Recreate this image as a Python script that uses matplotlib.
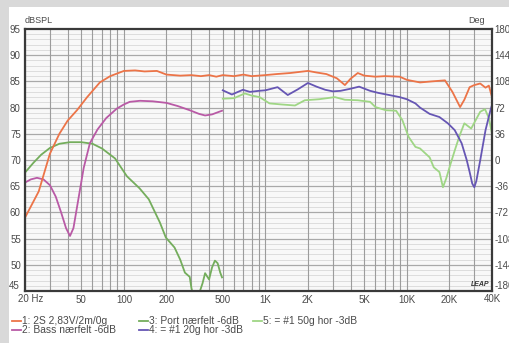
import matplotlib
matplotlib.use("Agg")
import matplotlib.pyplot as plt
from matplotlib.patches import Rectangle
from matplotlib.lines import Line2D

plt.rcParams['font.family'] = ['Liberation Sans', 'DejaVu Sans']

# ---- data ----
f1 = [20, 25, 30, 35, 40, 46.6, 55, 67.6, 80, 100, 120, 140, 171, 200, 250, 300, 350, 400, 450, 500,
      600, 700, 800, 1000, 1200, 1500, 2000, 2300, 2700, 3200, 3650, 4000, 4500, 5000, 6000, 7000,
      8900, 10000, 12400, 15000, 18600, 21000, 23800, 25500, 27800, 30000, 33000, 36000, 38000, 40000]
d1 = [59, 64, 71.2, 75, 77.5, 79.5, 82, 84.8, 86, 87, 87.1, 86.9, 87, 86.3, 86.1, 86.2, 86.0, 86.2, 85.9, 86.2,
      86.0, 86.3, 86.0, 86.2, 86.4, 86.6, 87.0, 86.7, 86.4, 85.6, 84.3, 85.5, 86.6, 86.1, 85.9, 86.0,
      85.9, 85.3, 84.8, 85.0, 85.2, 83.0, 80.1, 81.5, 83.9, 84.3, 84.6, 83.8, 84.2, 82.0]

f2 = [20, 22, 24.3, 27, 30, 33, 36, 39, 41.6, 44, 48, 52, 57.5, 65, 75, 89, 100, 110, 130, 160,
      200, 240, 292, 340, 375, 420, 460, 494]
d2 = [65.7, 66.3, 66.6, 66.3, 65.2, 63, 60, 57, 55.5, 57, 63, 68.5, 73.2, 75.8, 78, 79.8, 80.6, 81.1, 81.3, 81.2,
      80.9, 80.3, 79.5, 78.8, 78.5, 78.7, 79.1, 79.4]

f3 = [20, 23, 26, 30, 35, 41.6, 50, 60, 70, 86.6, 105, 129, 150, 179.5, 198, 228, 250, 270, 292, 300,
      310, 330, 345, 360, 375, 400, 420, 440, 460, 480, 494]
d3 = [67.6, 69.5, 71, 72.3, 73.1, 73.4, 73.4, 73.1, 72.2, 70.3, 66.9, 64.6, 62.5, 58.1, 55.2, 53.3, 51, 48.5, 47.7, 45.6,
      44, 44, 45, 46.5, 48.4, 47.2, 49.5, 50.8, 50.3, 48.5, 47.6]

f4 = [500, 580, 694, 778, 900, 1000, 1220, 1440, 1700, 2000, 2300, 2650, 3000, 3400, 4000, 4600, 5500, 6300,
      7500, 8900, 10000, 11500, 12400, 14500, 17000, 19500, 21800, 24400, 26500, 27800, 29000, 30000, 31000,
      33000, 36000, 39000, 40000]
d4 = [83.3, 82.5, 83.4, 83.0, 83.2, 83.3, 83.9, 82.4, 83.5, 84.7, 84.0, 83.4, 83.1, 83.2, 83.6, 84.0, 83.2, 82.8,
      82.4, 82.0, 81.6, 80.8, 80.0, 78.8, 78.2, 77.0, 75.7, 73.2, 70.0, 67.7, 65.5, 64.8, 66.0,
      69.9, 75.7, 79.5, 80.5]

f5 = [500, 600, 716, 800, 910, 1070, 1300, 1620, 1900, 2400, 3100, 3650, 4500, 5500, 6000, 7100, 8400, 9300,
      10300, 11500, 12400, 14500, 15500, 17000, 18000, 19000, 20400, 21800, 23500, 25500, 28500, 33000, 35700,
      38000, 40000]
d5 = [81.7, 81.8, 82.7, 82.3, 82.0, 80.8, 80.6, 80.4, 81.4, 81.6, 82.0, 81.5, 81.4, 81.1, 80.1, 79.5, 79.4, 77.6,
      74.4, 72.5, 72.2, 70.5, 68.6, 67.7, 64.8, 66.5, 69.3, 71.8, 74.5, 77.0, 76.0, 79.2, 79.7,
      78.0, 75.0]

labels = ["1: 2S 2,83V/2m/0g", "2: Bass nærfelt -6dB", "3: Port nærfelt -6dB",
          "4: = #1 20g hor -3dB", "5: = #1 50g hor -3dB"]
colors = ["#ec7448", "#b95aa6", "#74ad5c", "#6656b4", "#9fd685"]

xticks = [20, 50, 100, 200, 500, 1000, 2000, 5000, 10000, 20000, 40000]
xticklabels = ["20 Hz", "50", "100", "200", "500", "1K", "2K", "5K", "10K", "20K", "40K"]
yticks = [50, 55, 60, 65, 70, 75, 80, 85, 90, 95]
rticks = [-144, -108, -72, -36, 0, 36, 72, 108, 144, 180]

# ---- figure ----
W, H = 510, 343
fig = plt.figure(figsize=(W / 100, H / 100), dpi=100)
fig.patch.set_facecolor("#d9d9d9")
fig.add_artist(Rectangle((9 / W, 0), 1, 1 - 7 / H, transform=fig.transFigure,
                         facecolor="white", edgecolor="none", zorder=0))

AX_L, AX_R, AX_T, AX_B = 25, 492, 29, 291
ax = fig.add_axes([AX_L / W, 1 - AX_B / H, (AX_R - AX_L) / W, (AX_B - AX_T) / H])
ax.set_facecolor("#f8f8f8")
ax.set_xscale("log")
ax.set_xlim(20, 40000)
ax.set_ylim(45, 95)

# grid
for v in range(46, 95):
    if v % 5 == 0:
        ax.axhline(v, color="#a9a9a9", lw=0.9, zorder=1)
    else:
        ax.axhline(v, color="#d8d8d8", lw=0.6, zorder=1)
gx = []
for dec in [10, 100, 1000, 10000]:
    for m in range(1, 10):
        v = dec * m
        if 20 <= v <= 40000:
            gx.append(v)
for v in gx:
    ax.axvline(v, color="#9c9c9c", lw=0.8, zorder=1)

order = [(f3, d3, colors[2]), (f5, d5, colors[4]), (f2, d2, colors[1]), (f4, d4, colors[3]), (f1, d1, colors[0])]
for f, d, c in order:
    ax.plot(f, d, color=c, lw=1.3, zorder=3, solid_joinstyle="round")

for s in ax.spines.values():
    s.set_color("#3a3a3a")
    s.set_linewidth(1.6)
    s.set_zorder(5)

txtc = "#4a4a4a"
fs = 7
ax.set_xticks(xticks)
ax.set_xticklabels([""] + xticklabels[1:-1] + [""])
ax.xaxis.set_minor_locator(matplotlib.ticker.NullLocator())
ax.set_yticks(yticks)
ax.set_yticklabels([str(v) for v in yticks])
ax.tick_params(axis="both", length=0, labelsize=fs, labelcolor=txtc, pad=3)
ax.tick_params(axis="x", pad=3)

ax.text(-0.012, 0.0, "45", transform=ax.transAxes, ha="right", va="bottom", fontsize=fs, color=txtc)
ax.text(-7 / (AX_R - AX_L), -3 / (AX_B - AX_T), "20 Hz", transform=ax.transAxes,
        ha="left", va="top", fontsize=fs, color=txtc)
ax.text(1.0, -3 / (AX_B - AX_T), "40K", transform=ax.transAxes,
        ha="center", va="top", fontsize=fs, color=txtc)
ax.text(0.0, 1.015, "dBSPL", transform=ax.transAxes, ha="left", va="bottom", fontsize=6.5, color=txtc)
ax.text(0.985, 1.015, "Deg", transform=ax.transAxes, ha="right", va="bottom", fontsize=6.5, color=txtc)
ax.text(0.995, 0.012, "LEAP", transform=ax.transAxes, ha="right", va="bottom", fontsize=5,
        color="#333333", fontweight="bold", style="italic", zorder=6)

ax2 = ax.twinx()
ax2.set_ylim(-180, 180)
ax2.set_yticks(rticks)
ax2.set_yticklabels([str(v) for v in rticks])
ax2.tick_params(axis="y", length=0, labelsize=fs, labelcolor=txtc, pad=2)
for s in ax2.spines.values():
    s.set_visible(False)
ax2.text(1.005, 0.0, "-180", transform=ax2.transAxes, ha="left", va="bottom", fontsize=fs, color=txtc)

# legend (manual layout, 2 rows x 3 columns)
col_x = [12, 139, 253]
row_y = [321, 330]
pos = [(0, 0), (0, 1), (1, 0), (1, 1), (2, 0)]
for (ci, ri), lab, c in zip(pos, labels, colors):
    x0 = col_x[ci]
    y0 = 1 - row_y[ri] / H
    fig.add_artist(Line2D([x0 / W, (x0 + 9) / W], [y0, y0], transform=fig.transFigure,
                          color=c, lw=1.3))
    fig.text((x0 + 10) / W, y0, lab, ha="left", va="center", fontsize=7.4, color=txtc)

fig.savefig("out.png", dpi=100, facecolor=fig.get_facecolor())
